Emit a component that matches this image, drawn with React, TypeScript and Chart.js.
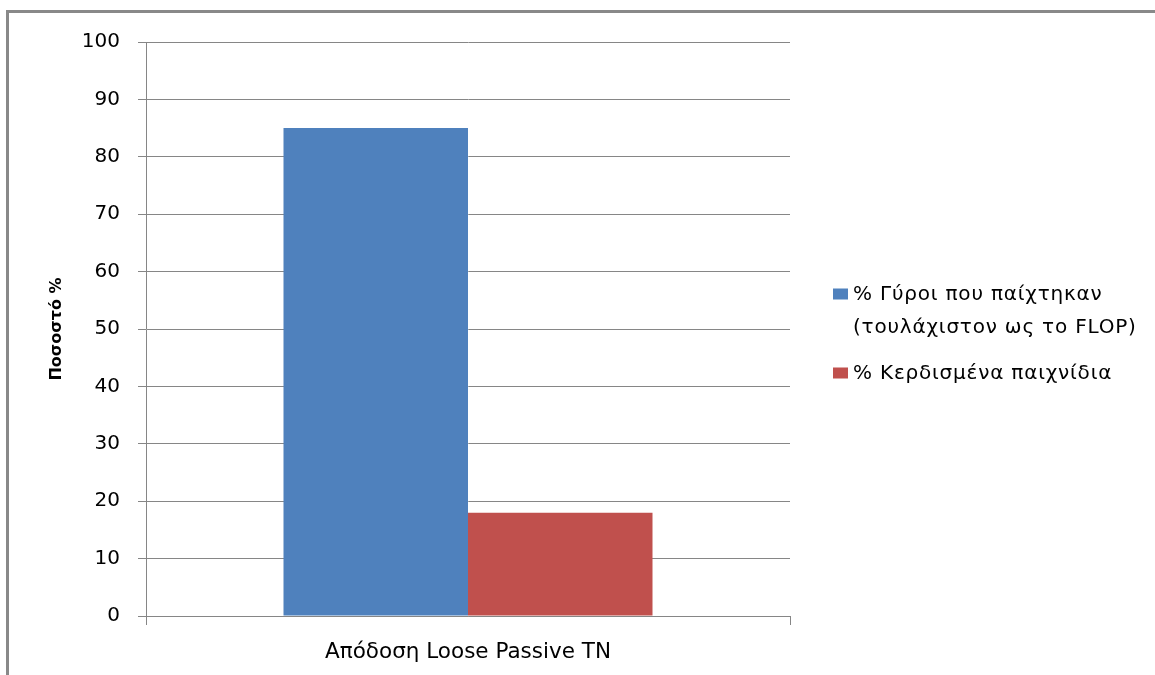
import { useEffect, useRef } from "react";
import { Chart, registerables } from "chart.js";

Chart.register(...registerables);

// Category on the x axis
const categories = ["Απόδοση Loose Passive TN"];
// Series names (legend lines)
const roundsLabel = ["% Γύροι που παίχτηκαν", "(τουλάχιστον ως το FLOP)"];
const wonLabel = ["% Κερδισμένα παιχνίδια"];
// Series values (percent)
const roundsPlayed = [85];
const gamesWon = [18];
// Value axis
const yMin = 0;
const yMax = 100;
const yStep = 10;
const yTitle = "Ποσοστό %";

const BLUE = "#4F81BD";
const RED = "#C0504D";
const GRID = "#868686";
const FONT = "'DejaVu Sans', sans-serif";

// Gray frame along the left and top edges
const framePlugin = {
  id: "frame",
  beforeDraw(chart: any) {
    const ctx = chart.ctx;
    ctx.save();
    ctx.fillStyle = "#898989";
    ctx.fillRect(6, 10, 3, chart.height - 10);
    ctx.fillRect(6, 10, chart.width - 6, 3);
    ctx.restore();
  },
};

// Legend on the right with multi-line entries
const sideLegendPlugin = {
  id: "sideLegend",
  afterDraw(chart: any) {
    const ctx = chart.ctx;
    const area = chart.chartArea;
    const lineH = 33;
    const itemGap = 13;
    const x = area.right + 43;
    const items = chart.data.datasets.map((ds: any) => ({
      lines: ds.legendLines as string[],
      color: ds.backgroundColor as string,
    }));
    let total = 0;
    items.forEach((it: any, i: number) => {
      total += (it.lines.length - 1) * lineH;
      if (i > 0) total += lineH + itemGap;
    });
    let y = (area.top + area.bottom) / 2 - total / 2 + 5;
    ctx.save();
    ctx.font = `20px ${FONT}`;
    (ctx as any).letterSpacing = "0.8px";
    ctx.textBaseline = "middle";
    ctx.textAlign = "left";
    items.forEach((it: any, i: number) => {
      if (i > 0) y += lineH + itemGap;
      ctx.fillStyle = it.color;
      ctx.fillRect(x, y - 6, 15, 11);
      ctx.fillStyle = "#000";
      it.lines.forEach((ln: string, j: number) => {
        ctx.fillText(ln, x + 20, y + j * lineH);
      });
      y += (it.lines.length - 1) * lineH;
    });
    ctx.restore();
  },
};

export default function App() {
  const canvasRef = useRef<HTMLCanvasElement | null>(null);

  useEffect(() => {
    if (!canvasRef.current) return;
    const chart = new Chart(canvasRef.current, {
      type: "bar",
      data: {
        labels: categories,
        datasets: [
          {
            label: roundsLabel.join(" "),
            legendLines: roundsLabel,
            data: roundsPlayed,
            backgroundColor: BLUE,
            categoryPercentage: 0.573,
            barPercentage: 1,
          } as any,
          {
            label: wonLabel.join(" "),
            legendLines: wonLabel,
            data: gamesWon,
            backgroundColor: RED,
            categoryPercentage: 0.573,
            barPercentage: 1,
          } as any,
        ],
      },
      options: {
        animation: false,
        responsive: false,
        layout: { padding: { left: 0, top: 42, right: 365, bottom: 0 } },
        plugins: {
          legend: { display: false },
          title: { display: false },
        },
        scales: {
          x: {
            type: "category",
            grid: {
              offset: true,
              drawOnChartArea: false,
              drawTicks: true,
              tickLength: 9,
              color: GRID,
            },
            border: { color: GRID, width: 1 },
            ticks: {
              color: "#000",
              font: { family: FONT, size: 21.5 },
              padding: 15,
            },
            afterFit(scale: any) {
              scale.height = 59;
            },
          },
          y: {
            min: yMin,
            max: yMax,
            grid: { color: GRID, tickLength: 8, drawTicks: true },
            border: { color: GRID, width: 1 },
            ticks: {
              stepSize: yStep,
              color: "#000",
              font: { family: FONT, size: 20 },
              padding: 18,
            },
            title: {
              display: true,
              text: yTitle,
              color: "#000",
              font: { family: FONT, size: 16, weight: "bold" },
              padding: { top: 47, bottom: 0 },
            },
            afterFit(scale: any) {
              scale.width = 146;
            },
          },
        },
      },
      plugins: [framePlugin, sideLegendPlugin],
    });
    return () => chart.destroy();
  }, []);

  return (
    <div style={{ position: "absolute", left: 0, top: 0, width: 1155, height: 675, background: "#fff" }}>
      <canvas ref={canvasRef} width={1155} height={675} />
    </div>
  );
}
